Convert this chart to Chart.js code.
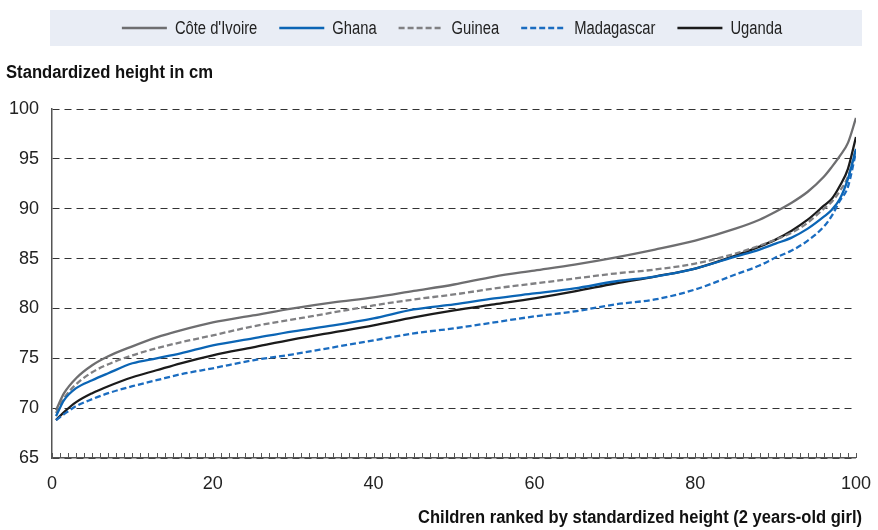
<!DOCTYPE html>
<html>
<head>
<meta charset="utf-8">
<script src="https://cdn.jsdelivr.net/npm/chart.js@4.4.1/dist/chart.umd.min.js"></script>
<style>
  html, body { margin: 0; padding: 0; background: #fff; }
  #wrap { width: 878px; height: 530px; }
</style>
</head>
<body>
<div id="wrap"><canvas id="heightChart"></canvas></div>
<script>
// rank of the child (percentile) on the x axis
const ranks = [0.5, 1.5, 3, 5, 7, 10, 13, 16, 20, 25, 30, 35, 40, 45, 50, 55, 60, 65, 70, 75, 80, 85, 88, 90, 92, 94, 96, 97, 98, 99, 100];

const coteDivoire = [69.8, 71.5, 73.0, 74.3, 75.2, 76.2, 77.1, 77.8, 78.6, 79.3, 80.0, 80.6, 81.1, 81.75, 82.4, 83.2, 83.8, 84.4, 85.1, 85.9, 86.8, 88.0, 88.9, 89.7, 90.6, 91.7, 93.2, 94.2, 95.3, 96.6, 99.1];
const ghana       = [69.2, 70.8, 72.0, 72.8, 73.5, 74.5, 75.0, 75.5, 76.3, 77.0, 77.7, 78.3, 79.0, 79.9, 80.4, 81.0, 81.5, 82.0, 82.7, 83.2, 84.0, 85.2, 85.9, 86.5, 87.1, 88.0, 89.2, 89.9, 91.0, 93.0, 96.0];
const guinea      = [69.5, 71.0, 72.4, 73.6, 74.4, 75.3, 76.0, 76.6, 77.3, 78.2, 78.9, 79.6, 80.3, 80.9, 81.4, 82.0, 82.5, 83.0, 83.5, 83.9, 84.5, 85.5, 86.3, 86.9, 87.6, 88.6, 90.0, 90.7, 91.8, 93.2, 96.0];
const madagascar  = [68.8, 69.4, 70.2, 70.9, 71.5, 72.2, 72.8, 73.4, 74.0, 74.8, 75.4, 76.1, 76.8, 77.5, 78.0, 78.6, 79.2, 79.7, 80.4, 80.9, 81.9, 83.4, 84.3, 85.1, 85.8, 86.8, 88.2, 89.3, 90.8, 92.2, 95.7];
const uganda      = [68.8, 69.6, 70.6, 71.5, 72.2, 73.1, 73.8, 74.5, 75.3, 76.1, 76.9, 77.6, 78.3, 79.1, 79.8, 80.4, 81.0, 81.7, 82.5, 83.2, 84.0, 85.3, 86.2, 86.9, 87.8, 88.9, 90.3, 91.0, 92.3, 94.0, 97.2];

const countries = ["Côte d'Ivoire", 'Ghana', 'Guinea', 'Madagascar', 'Uganda'];
const xTicks = [0, 20, 40, 60, 80, 100];
const yTicks = [65, 70, 75, 80, 85, 90, 95, 100];

const yTitle = 'Standardized height in cm';
const xTitle = 'Children ranked by standardized height (2 years-old girl)';

const FONT = "'Liberation Sans', Arial, sans-serif";

function points(values) {
    return ranks.map((r, i) => ({ x: r, y: values[i] }));
}

function line(label, values, color, dashed) {
    return {
        label: label,
        data: points(values),
        borderColor: color,
        backgroundColor: color,
        borderWidth: 2.3,
        borderDash: dashed ? [6, 3] : [],
        pointRadius: 0,
        cubicInterpolationMode: 'monotone',
        fill: false
    };
}

// draw text squeezed horizontally, to get the narrow look of the original
function narrowText(ctx, text, x, y, sx, align) {
    const w = ctx.measureText(text).width * sx;
    const left = align === 'right' ? x - w : x;
    ctx.save();
    ctx.translate(left, y);
    ctx.scale(sx, 1);
    ctx.textAlign = 'left';
    ctx.fillText(text, 0, 0);
    ctx.restore();
    return w;
}

// legend band, minor ticks on the x axis and the two axis titles
const decorations = {
    id: 'decorations',
    beforeDraw(chart) {
        const ctx = chart.ctx;
        ctx.save();
        ctx.fillStyle = '#e9edf5';
        ctx.fillRect(50, 10, 812, 36);
        ctx.restore();
    },
    afterDraw(chart) {
        const ctx = chart.ctx;
        const x = chart.scales.x;
        const bottom = chart.chartArea.bottom;
        ctx.save();

        ctx.strokeStyle = '#555';
        ctx.lineWidth = 1;
        ctx.beginPath();
        for (let i = 0; i <= 100; i++) {
            const px = Math.round(x.getPixelForValue(i)) + 0.5;
            ctx.moveTo(px, bottom);
            ctx.lineTo(px, bottom - 5);
        }
        ctx.stroke();

        // legend
        const sx = 0.82;
        ctx.font = '18px ' + FONT;
        ctx.textBaseline = 'middle';
        const sets = chart.data.datasets;
        const widths = sets.map(ds => ctx.measureText(ds.label).width * sx);
        const total = widths.reduce((s, w) => s + w + 53, 0) + 22 * (sets.length - 1);
        let lx = 452 - total / 2;
        const ly = 28;
        sets.forEach((ds, i) => {
            ctx.strokeStyle = ds.borderColor;
            ctx.lineWidth = ds.borderWidth;
            ctx.setLineDash(ds.borderDash);
            ctx.beginPath();
            ctx.moveTo(lx, ly);
            ctx.lineTo(lx + 45, ly);
            ctx.stroke();
            ctx.setLineDash([]);
            lx += 53;
            ctx.fillStyle = '#222';
            narrowText(ctx, ds.label, lx, ly + 1, sx, 'left');
            lx += widths[i] + 22;
        });

        // axis titles
        ctx.fillStyle = '#111';
        ctx.font = 'bold 18px ' + FONT;
        const yw = ctx.measureText(yTitle).width;
        narrowText(ctx, yTitle, 6, 73, 207 / yw, 'left');
        const xw = ctx.measureText(xTitle).width;
        narrowText(ctx, xTitle, 862, 518, 444 / xw, 'right');
        ctx.restore();
    }
};

new Chart(document.getElementById('heightChart').getContext('2d'), {
    type: 'line',
    data: {
        datasets: [
            line(countries[0], coteDivoire, '#6e6e70', false),
            line(countries[1], ghana, '#0b65b5', false),
            line(countries[2], guinea, '#808083', true),
            line(countries[3], madagascar, '#1a6cc0', true),
            line(countries[4], uganda, '#1b1b1b', false)
        ]
    },
    options: {
        responsive: true,
        maintainAspectRatio: false,
        animation: false,
        layout: {
            padding: { top: 109, left: 0, right: 18, bottom: 0 }
        },
        plugins: {
            legend: { display: false },
            tooltip: { enabled: false }
        },
        scales: {
            x: {
                type: 'linear',
                min: 0,
                max: 100,
                afterFit: s => { s.height = 72; },
                afterBuildTicks: s => { s.ticks = xTicks.map(v => ({ value: v })); },
                grid: { display: false },
                border: { display: true, color: '#555', width: 1.5 },
                ticks: {
                    padding: 7,
                    color: '#222',
                    maxRotation: 0,
                    font: { family: FONT, size: 18 }
                }
            },
            y: {
                min: 65,
                max: 100,
                afterFit: s => { s.width = 52; },
                afterBuildTicks: s => { s.ticks = yTicks.map(v => ({ value: v })); },
                grid: { color: '#333', lineWidth: 1, drawTicks: false },
                border: { display: true, color: '#555', width: 1.5, dash: [7, 5] },
                ticks: {
                    padding: 13,
                    color: '#222',
                    font: { family: FONT, size: 18 }
                }
            }
        }
    },
    plugins: [decorations]
});
</script>
</body>
</html>
